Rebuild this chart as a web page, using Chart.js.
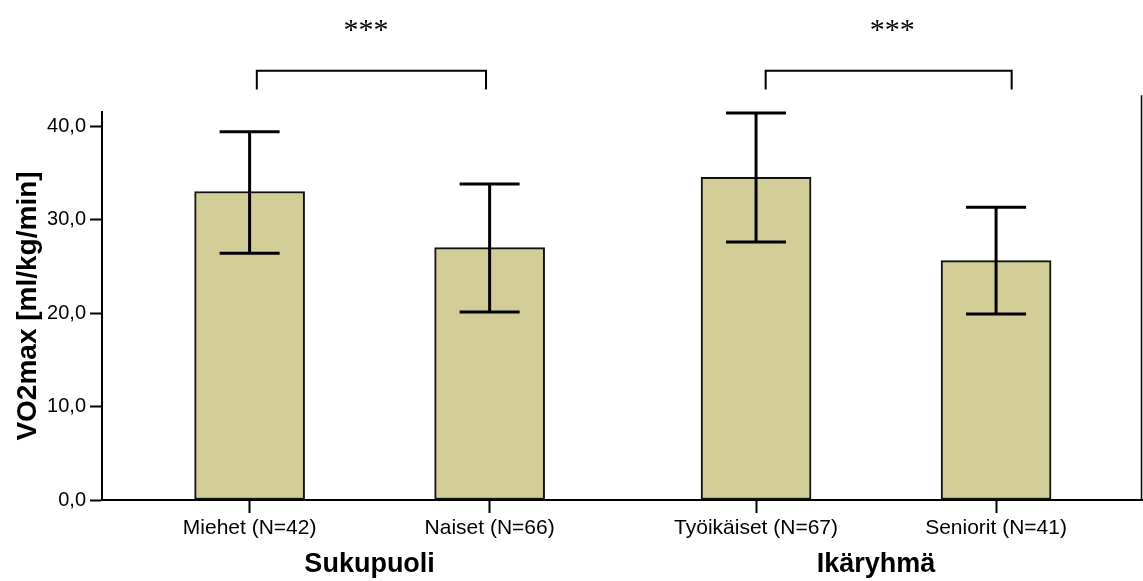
<!DOCTYPE html>
<html>
<head>
<meta charset="utf-8">
<script src="https://cdn.jsdelivr.net/npm/chart.js@4.4.1/dist/chart.umd.min.js"></script>
<style>
  body { margin: 0; background: #fff; }
  #wrap { width: 1143px; height: 581px; }
</style>
</head>
<body>
<div id="wrap"><canvas id="chart-bar"></canvas></div>
<script>
// data
var labels = ['Miehet (N=42)', 'Naiset (N=66)', 'Työikäiset (N=67)', 'Seniorit (N=41)'];
var positions = [0, 1, 2.11, 3.11];
var means = [33.0, 27.0, 34.5, 25.6];
var upper = [39.4, 33.8, 41.4, 31.3];
var lower = [26.4, 20.1, 27.6, 19.9];
var groups = ['Sukupuoli', 'Ikäryhmä'];
var groupMembers = [[0, 1], [2, 3]];
var yTicks = [0, 10, 20, 30, 40];
// significance brackets (x in axis units)
var brackets = [
  { from: 0.03, to: 0.985, star: 0.485, text: '***' },
  { from: 2.15, to: 3.175, star: 2.677, text: '***' }
];
var bracketLevel = 45.9, bracketLeg = 43.9, frameTop = 43.3;

var sans = "'Liberation Sans', Arial, Helvetica, sans-serif";

var extras = {
  id: 'extras',
  afterDatasetsDraw: function (chart) {
    var ctx = chart.ctx, xs = chart.scales.x, ys = chart.scales.y;
    ctx.save();
    ctx.strokeStyle = '#000';
    // error bars
    ctx.lineWidth = 3;
    for (var i = 0; i < means.length; i++) {
      var x = xs.getPixelForValue(positions[i]);
      var yh = ys.getPixelForValue(upper[i]);
      var yl = ys.getPixelForValue(lower[i]);
      ctx.beginPath();
      ctx.moveTo(x, yh); ctx.lineTo(x, yl);
      ctx.moveTo(x - 30, yh); ctx.lineTo(x + 30, yh);
      ctx.moveTo(x - 30, yl); ctx.lineTo(x + 30, yl);
      ctx.stroke();
    }
    // right frame line
    ctx.lineWidth = 1.5;
    ctx.beginPath();
    ctx.moveTo(chart.chartArea.right - 0.5, ys.getPixelForValue(frameTop));
    ctx.lineTo(chart.chartArea.right - 0.5, chart.chartArea.bottom);
    ctx.stroke();
    // brackets + stars
    ctx.lineWidth = 2;
    var by = ys.getPixelForValue(bracketLevel), bl = ys.getPixelForValue(bracketLeg);
    ctx.font = "30px 'Liberation Serif', 'Times New Roman', serif";
    ctx.fillStyle = '#000';
    ctx.textAlign = 'center';
    ctx.textBaseline = 'alphabetic';
    brackets.forEach(function (b) {
      var x1 = xs.getPixelForValue(b.from), x2 = xs.getPixelForValue(b.to);
      ctx.beginPath();
      ctx.moveTo(x1, bl); ctx.lineTo(x1, by); ctx.lineTo(x2, by); ctx.lineTo(x2, bl);
      ctx.stroke();
      ctx.fillText(b.text, xs.getPixelForValue(b.star), by - 32);
    });
    // group titles
    ctx.font = "bold 27px " + sans;
    ctx.textBaseline = 'middle';
    groups.forEach(function (g, k) {
      var m = groupMembers[k];
      var cx = (xs.getPixelForValue(positions[m[0]]) + xs.getPixelForValue(positions[m[1]])) / 2;
      ctx.fillText(g, cx, chart.chartArea.bottom + 65);
    });
    ctx.restore();
  }
};

var ctx1 = document.getElementById('chart-bar').getContext('2d');

new Chart(ctx1, {
  type: 'bar',
  data: {
    datasets: [{
      data: positions.map(function (p, i) { return { x: p, y: means[i] }; }),
      backgroundColor: '#D3CE98',
      borderColor: '#111',
      borderWidth: 2,
      borderSkipped: false,
      barThickness: 110
    }]
  },
  options: {
    responsive: true,
    maintainAspectRatio: false,
    animation: false,
    layout: { padding: { top: 112, right: 1, left: 0, bottom: 0 } },
    plugins: {
      legend: { display: false },
      tooltip: { enabled: false }
    },
    scales: {
      x: {
        type: 'linear',
        offset: false,
        min: -0.615,
        max: 3.718,
        afterBuildTicks: function (scale) {
          scale.ticks = positions.map(function (v) { return { value: v }; });
        },
        afterFit: function (scale) { scale.height = 81; },
        grid: {
          display: true,
          offset: false,
          drawOnChartArea: false,
          drawTicks: true,
          tickLength: 13,
          tickWidth: 2,
          tickColor: '#000'
        },
        border: { display: true, color: '#000', width: 2 },
        ticks: {
          autoSkip: false,
          maxRotation: 0,
          padding: 3,
          color: '#000',
          font: { size: 21, family: sans },
          callback: function (value, index) { return labels[index]; }
        }
      },
      y: {
        min: 0,
        max: 41.5,
        afterBuildTicks: function (scale) {
          scale.ticks = yTicks.map(function (v) { return { value: v }; });
        },
        afterFit: function (scale) { scale.width = 102; },
        grid: {
          display: true,
          drawOnChartArea: false,
          drawTicks: true,
          tickLength: 12,
          tickWidth: 2,
          tickColor: '#000'
        },
        border: { display: true, color: '#000', width: 2 },
        title: {
          display: true,
          text: 'VO2max [ml/kg/min]',
          color: '#000',
          padding: { top: 11, bottom: 0 },
          font: { size: 28, weight: 'bold', family: sans }
        },
        ticks: {
          padding: 4,
          color: '#000',
          font: { size: 20, family: sans },
          callback: function (value) { return value.toFixed(1).replace('.', ','); }
        }
      }
    }
  },
  plugins: [extras]
});
</script>
</body>
</html>
